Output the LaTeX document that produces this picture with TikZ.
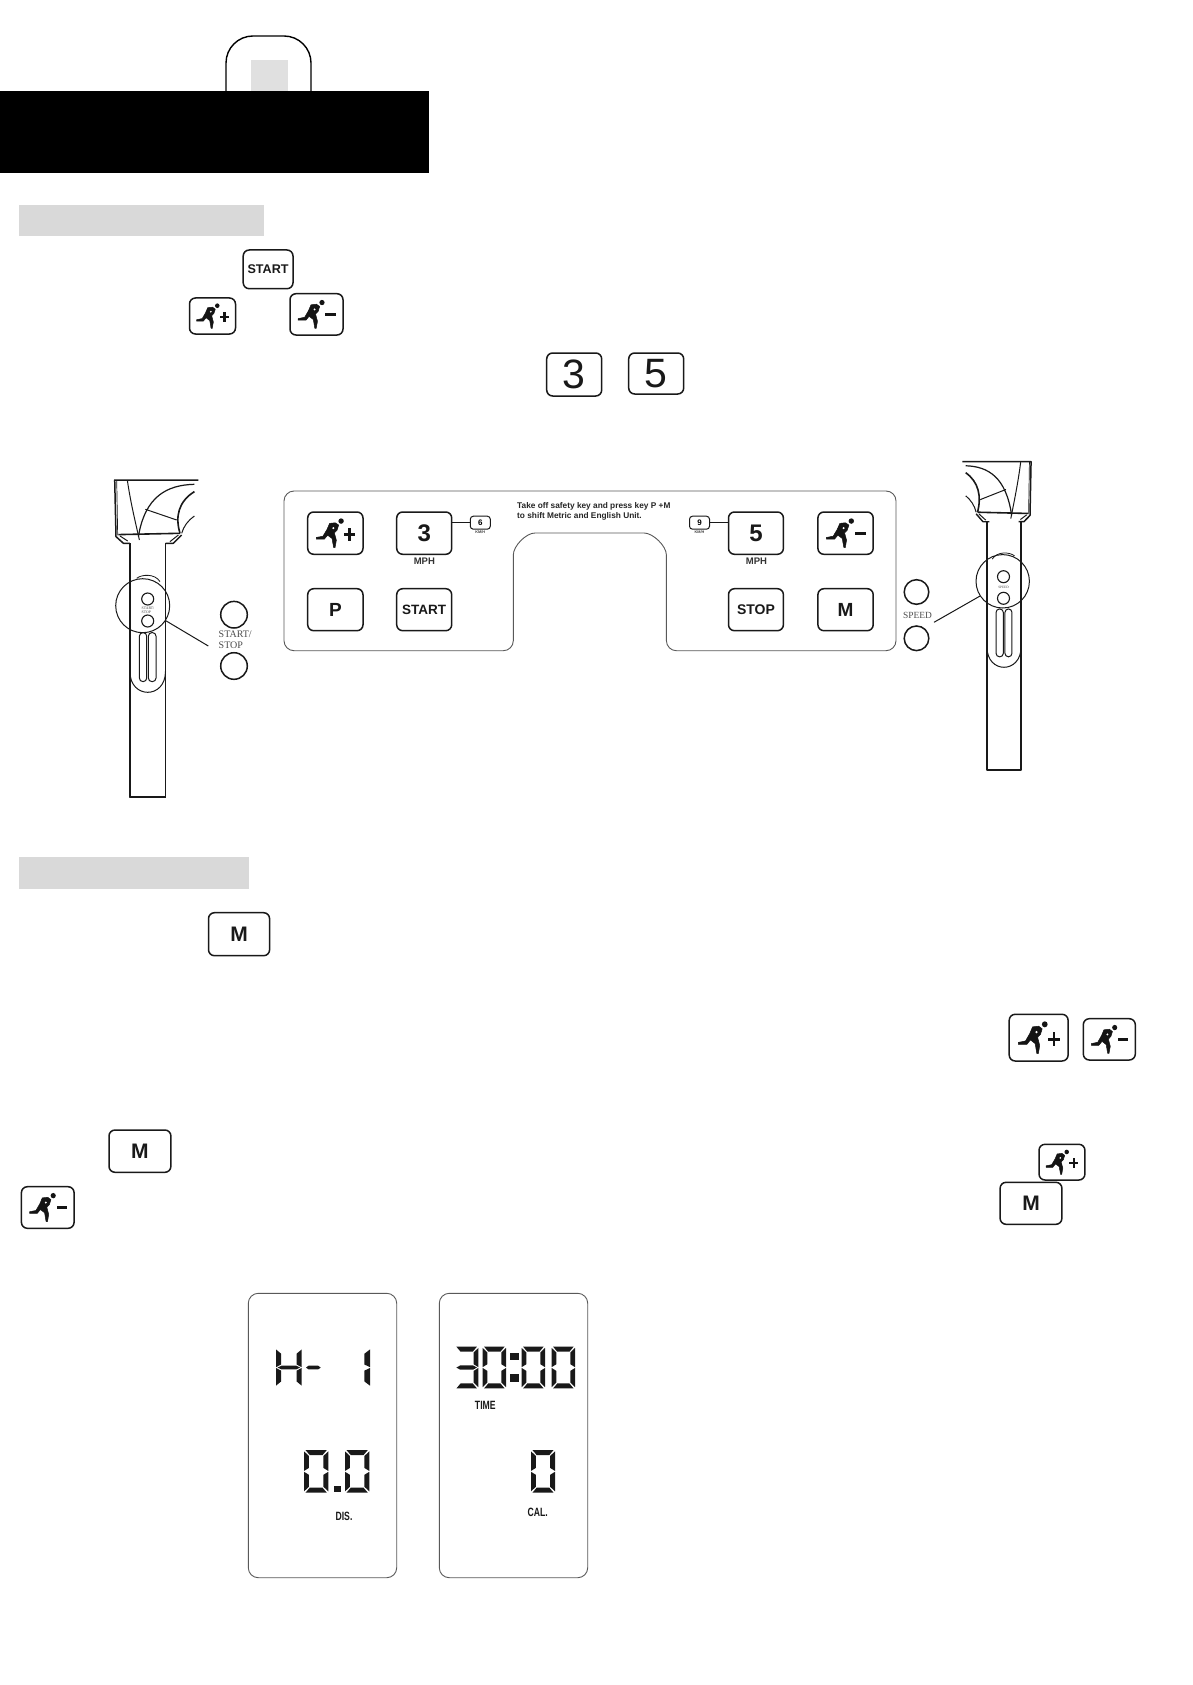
\documentclass[tikz,border=0pt]{standalone}
\usepackage{fontspec}
\setmainfont{Liberation Sans}
\newfontfamily\lserif{Liberation Serif}
\newfontfamily\nsans[FakeStretch=0.72]{Liberation Sans}
\newcommand\fs[1]{\fontsize{#1}{#1}\selectfont}
\tikzset{
  keybox/.style={draw=black!90,line width=1.5pt,rounded corners=6pt,inner sep=0pt,font=\bfseries,text=black!90},
  thinline/.style={draw=black!65,line width=0.9pt},
  handleline/.style={draw=black!90,line width=1pt,line join=round},
  thickline/.style={draw=black!90,line width=1.6pt},
  bignob/.style={circle,draw=black!90,line width=1.5pt,inner sep=0pt,minimum size=#1},
  smallnob/.style={circle,draw=black!90,line width=1.1pt,inner sep=0pt,minimum size=12pt},
  ring/.style={circle,draw=black!90,line width=1pt,inner sep=0pt,minimum size=#1},
  lcdbox/.style={thinline,rounded corners=10pt},
  serifgray/.style={text=black!70,inner sep=0pt,align=left},
  tinylabel/.style={text=black!75,inner sep=0pt,align=center},
  lcdlabel/.style={inner sep=0pt,font=\nsans\bfseries\fs{12},text=black!90}
}
% key(name, x0, y0, x1, y1, font size, text)
\newcommand\keybtn[7]{\node[keybox,minimum width={#4-#2},minimum height={#5-#3},font=\bfseries\fs{#6}] (#1) at ({(#2+#4)/2},{(#3+#5)/2}) {#7};}
\newcommand\keyreg[7]{\node[keybox,minimum width={#4-#2},minimum height={#5-#3},font=\mdseries\fs{#6}] (#1) at ({(#2+#4)/2},{(#3+#5)/2}) {#7};}
% runner button
\newcommand\runnerfig{%
  \filldraw[black!92,line width=.5pt,line join=round] (-19,6)--(-19,4.3)--(-12.3,3)--(-8.3,-3.7)--(-5.7,-9.7)--(0,-10.3)--(3.3,-8)--(1.7,-3)--(-1,-.3)--(1,7)--(-.3,14.3)--(-1.7,14.3)--(-3.3,5.3)--(-7.7,2)--(-11,6)--cycle;
  \fill[white] (-2,-5) circle[radius=1.1];
  \fill[black!92] (5.7,-12) circle[radius=2.7];
}
\newcommand\runplus[5]{\node[keybox,minimum width={#4-#2},minimum height={#5-#3}] (#1) at ({(#2+#4)/2},{(#3+#5)/2}) {};
  \begin{scope}[shift={(#1.center)},xscale={(#4-#2)/55},yscale={(#5-#3)/42}]
  \runnerfig
  \fill[black!92] (8.8,0) rectangle (19.8,2.6);
  \fill[black!92] (13,-4.7) rectangle (15.6,7.3);
  \end{scope}}
\newcommand\runminus[5]{\node[keybox,minimum width={#4-#2},minimum height={#5-#3}] (#1) at ({(#2+#4)/2},{(#3+#5)/2}) {};
  \begin{scope}[shift={(#1.center)},xscale={(#4-#2)/55},yscale={(#5-#3)/42}]
  \runnerfig
  \fill[black!92] (9.3,-1.2) rectangle (20,1.6);
  \end{scope}}
% LCD segments
\def\sega{(.06,0)--(.94,0)--(.76,.12)--(.24,.12)--cycle}
\def\segf{(0,.03)--(.2,.14)--(.2,.42)--(0,.49)--cycle}
\def\segb{(1,.03)--(.8,.14)--(.8,.42)--(1,.49)--cycle}
\def\segg{(.06,.5)--(.22,.45)--(.78,.45)--(.94,.5)--(.78,.55)--(.22,.55)--cycle}
\def\sege{(0,.51)--(.2,.58)--(.2,.86)--(0,.97)--cycle}
\def\segc{(1,.51)--(.8,.58)--(.8,.86)--(1,.97)--cycle}
\def\segd{(.06,1)--(.94,1)--(.76,.88)--(.24,.88)--cycle}
\newcommand\lcd[5]{\begin{scope}[shift={(#1,#2)},xscale=#3,yscale=#4]
  \foreach \s in {#5} {\expandafter\let\expandafter\curseg\csname seg\s\endcsname \fill[black!90] \curseg;}
  \end{scope}}
% handle head
\newcommand\handlehead{%
  \draw[handleline,line width=1.5pt] (50.7,-63.3)--(-33,-63.3)--(-31.7,-6.7)--(-24.3,0)--(-17.8,0);
  \draw[handleline,line width=.7pt] (-31,-63)--(-30,-8);
  \draw[handleline] (-20.3,-62.7) .. controls (-17,-40) and (-12,-20) .. (-8.3,-3.3);
  \draw[thickline] (-29.3,-8.7)--(32.3,-10);
  \draw[handleline] (-27.7,-7.3)--(-20,-2.3);
  \draw[handleline,line width=1.4pt] (18,0)--(25.7,0)--(34,-8.3);
  \draw[handleline] (22.3,-1.7)--(30.7,-8.3);
  \draw[handleline,line width=1.2pt] (-9.3,-6.7) .. controls (-2.7,-46.7) and (19,-58.3) .. (46.7,-59);
  \draw[handleline] (-2.3,-34)--(29,-23.3);
  \draw[thickline] (32.3,-10) .. controls (27.3,-26.7) and (30.7,-41.7) .. (46.7,-51.7);
  \draw[handleline] (34,-10) .. controls (35.7,-16.7) and (40.7,-23.3) .. (46.7,-27.3);
}
\newcommand\handlepole{%
  \draw[handleline,line width=1.3pt] (-17.8,0)--(-17.8,254)--(17.8,254)--(17.8,0);
  \draw[handleline,line width=2pt] (-17.8,254)--(17.8,254);
  \draw[handleline,line width=.8pt] (-11,35) .. controls (-6,31) and (7,30) .. (12.3,38.3);
  \draw[handleline] (-17.8,128) .. controls (-17.8,142) and (-9,149) .. (0,149) .. controls (9,149) and (17.8,142) .. (17.8,128);
  \draw[handleline,rounded corners=3.5pt] (-8.3,89.3) rectangle (-1,138.3);
  \draw[handleline,rounded corners=3.5pt] (.7,89.3) rectangle (8.3,138.3);
}
\begin{document}
\begin{tikzpicture}[x=1pt,y=-1pt]
\useasboundingbox (0,0) rectangle (1192,1685);
\fill[white] (0,0) rectangle (1192,1685);

% header
\draw[black,line width=1.4pt,rounded corners=27pt] (226,100)--(226,36)--(311,36)--(311,100);
\fill[black!12] (250.5,60) rectangle (287.5,95);
\fill[black] (0,91) rectangle (429,173);
\fill[black!15] (19,205) rectangle (264,236);

% first text icons
\keybtn{kstart}{243.2}{250}{293}{288.7}{12.6}{START}
\runplus{rp1}{189.5}{298}{235.5}{334}
\runminus{rm1}{290}{293.7}{343}{335}
\keyreg{kthree}{546.7}{353}{601.7}{396}{41}{3}
\keyreg{kfive}{628.7}{353}{683.7}{394}{41}{5}

% console panel
\draw[thinline,rounded corners=10pt] (284,491)--(896,491)--(896,650.7)--(666.4,650.7)--(666.4,565)
  .. controls (666.4,546) and (653,533) .. (634,533) -- (545,533) .. controls (526,533) and (513.3,546) .. (513.3,565)
  --(513.3,650.7)--(284,650.7)--cycle;
\node[inner sep=0pt,align=left,anchor=west,font=\bfseries\fontsize{8.3}{9.7}\selectfont,text=black!85] (note) at (517,511.2)
  {Take off safety key and press key P +M\\to shift Metric and English Unit.};
\runplus{prp}{307.7}{512}{363}{554.3}
\keybtn{pthree}{396.7}{512}{451.7}{554.3}{24}{3}
\keybtn{pp}{307.7}{588.7}{363}{630.7}{19}{P}
\keybtn{pstart}{396.7}{588.7}{451.7}{630.7}{13.5}{START}
\keybtn{pfive}{728.5}{512}{783.4}{554.3}{24}{5}
\runminus{prm}{817.9}{512}{873.2}{554.3}
\keybtn{pstop}{728.5}{588.7}{783.4}{630.7}{14}{STOP}
\keybtn{pm}{817.9}{588.7}{873.2}{630.7}{19}{M}
\node[inner sep=0pt,font=\bfseries\fs{9.5},text=black!80] (mphl) at (424.3,561) {MPH};
\node[inner sep=0pt,font=\bfseries\fs{9.5},text=black!80] (mphr) at (756.5,561) {MPH};
\node[draw=black!90,line width=1pt,rounded corners=3pt,minimum width=20pt,minimum height=13pt,inner sep=0pt,font=\bfseries\fs{8}] (bsix) at (480.3,522.7) {6};
\node[draw=black!90,line width=1pt,rounded corners=3pt,minimum width=20pt,minimum height=13pt,inner sep=0pt,font=\bfseries\fs{8}] (bnine) at (699.5,522.7) {9};
\node[tinylabel,font=\bfseries\fs{3.8}] (kmhl) at (480.3,532) {KM/H};
\node[tinylabel,font=\bfseries\fs{3.8}] (kmhr) at (699.5,532) {KM/H};
\draw[line width=1pt,black!90] (pthree.east |- bsix.west)--(bsix.west);
\draw[line width=1pt,black!90] (pfive.west |- bnine.east)--(bnine.east);

% left handle
\begin{scope}[shift={(147.7,543.3)}]
  \handlehead
  \handlepole
\end{scope}
\node[ring=54pt] (lring) at (142.7,605.7) {};
\node[smallnob] (lb1) at (147.7,599) {};
\node[smallnob] (lb2) at (147.7,621) {};
\node[tinylabel,font=\lserif\fontsize{3.8}{4.2}\selectfont,align=left] (lmini) at (148,610) {START/\\STOP};
\coordinate (lend) at (208.3,646);
\draw[line width=1pt,black!90] (lring.-33)--(lend);
\node[bignob=26.6pt] (lnob1) at (234,614.7) {};
\node[bignob=26.6pt] (lnob2) at (234,666) {};
\node[serifgray,font=\lserif\fontsize{10}{10.3}\selectfont,anchor=north west] (llab) at (218.5,631) {START/\\STOP};

% right handle
\begin{scope}[shift={(1004,521.7)},xscale=-.82,yscale=.948]
  \handlehead
\end{scope}
\begin{scope}[shift={(1004,521.7)},xscale=-.96,yscale=.977]
  \handlepole
\end{scope}
\node[ring=53.4pt] (rring) at (1002.7,581.3) {};
\node[smallnob] (rb1) at (1003.5,576.7) {};
\node[smallnob] (rb2) at (1003.5,598.3) {};
\node[tinylabel,font=\lserif\fs{3.4}] (rmini) at (1003.5,587.7) {SPEED};
\coordinate (rend) at (934,622.3);
\draw[line width=1pt,black!90] (rring.213)--(rend);
\node[bignob=24.6pt] (rnob1) at (916.5,592) {};
\node[bignob=24.6pt] (rnob2) at (916.5,638.3) {};
\node[serifgray,font=\lserif\fs{9.4}] (rlab) at (917.5,615) {SPEED};

% second section
\fill[black!15] (19,857) rectangle (248.5,889);
\keybtn{mone}{208.5}{912.7}{269.6}{955.7}{21}{M}
\runplus{rp2}{1009.2}{1014.3}{1068.1}{1061}
\runminus{rm2}{1083.3}{1018.7}{1135.3}{1060}
\keybtn{mtwo}{109}{1130}{170.9}{1172.3}{21}{M}
\runplus{rp3}{1039}{1144.3}{1084.9}{1180}
\runminus{rm3}{21.4}{1186.7}{74.1}{1228.3}
\keybtn{mthree}{1000.1}{1182.3}{1061.9}{1224.3}{21}{M}

% LCD panels
\draw[lcdbox] (248.3,1293.3) rectangle (396.7,1577.7);
\draw[lcdbox] (439.3,1293.3) rectangle (587.7,1577.7);
% H
\lcd{276}{1348.3}{25.7}{38.5}{f,b,g,e,c}
% dash
\lcd{305}{1348.3}{16.7}{38.5}{g}
% 1
\lcd{342}{1348.3}{28}{38.5}{b,c}
% 0.0
\lcd{304}{1450}{24.3}{42.7}{a,b,c,d,e,f}
\fill[black!90] (334,1486) rectangle (341,1492);
\lcd{345}{1450}{24.3}{42.7}{a,b,c,d,e,f}
\node[lcdlabel] (ldis) at (344,1516.7) {DIS.};
% 30:00
\lcd{455}{1346.7}{23.3}{41.7}{a,b,c,d,g}
\lcd{482.7}{1346.7}{23.3}{41.7}{a,b,c,d,e,f}
\fill[black!90] (510,1353) rectangle (519,1360);
\fill[black!90] (510,1374) rectangle (519,1382);
\lcd{521.7}{1346.7}{23.3}{41.7}{a,b,c,d,e,f}
\lcd{551.7}{1346.7}{23.3}{41.7}{a,b,c,d,e,f}
\node[lcdlabel] (ltime) at (485.3,1405.7) {TIME};
\lcd{531}{1450}{24}{42.7}{a,b,c,d,e,f}
\node[lcdlabel] (lcal) at (537.7,1512.3) {CAL.};
\end{tikzpicture}
\end{document}
